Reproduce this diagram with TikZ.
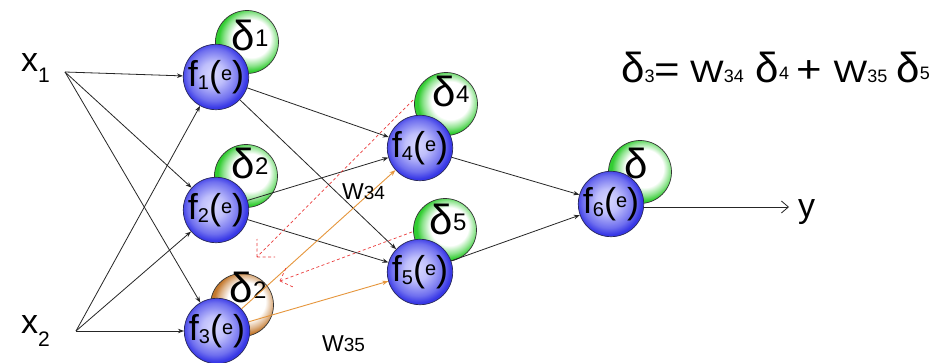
\documentclass[tikz,border=0pt]{standalone}
\usepackage{fontspec}
\setmainfont{Liberation Sans}
\newfontfamily\wf[FakeStretch=1.15]{Liberation Sans}
\usetikzlibrary{arrows.meta,calc}
\definecolor{nin}{RGB}{215,215,255}
\definecolor{nout}{RGB}{55,55,230}
\definecolor{nedge}{RGB}{40,40,90}
\definecolor{gout}{RGB}{50,205,50}
\definecolor{oout}{RGB}{195,120,45}
\definecolor{orline}{RGB}{230,150,60}
\definecolor{rdash}{RGB}{235,60,60}
\pgfdeclareradialshading{neushade}{\pgfpoint{-3bp}{3bp}}{color(0bp)=(nin); color(9bp)=(nin!85!nout); color(20bp)=(nin!35!nout); color(25bp)=(nout); color(50bp)=(nout)}
\pgfdeclareradialshading{gshade}{\pgfpoint{5bp}{4bp}}{color(0bp)=(white); color(15bp)=(white); color(21bp)=(gout!55); color(25bp)=(gout); color(50bp)=(gout)}
\pgfdeclareradialshading{oshade}{\pgfpoint{5bp}{4bp}}{color(0bp)=(white); color(15bp)=(white); color(21bp)=(oout!55); color(25bp)=(oout); color(50bp)=(oout)}
\newcommand\fsz[1]{\fontsize{#1}{#1}\selectfont}
\newcommand\flab[1]{{\fsz{36}f}\raisebox{-3pt}{\fsz{20}#1}{\fsz{36}(}\raisebox{6pt}{\fsz{20}e}{\fsz{36})}}
\newcommand\dlab[1]{{\fsz{42}δ}\raisebox{4pt}{\fsz{24}#1}}
\begin{document}
\begin{tikzpicture}[x=1pt,y=-1pt,
  neuron/.style={circle,draw=nedge,line width=0.7pt,minimum size=64pt,inner sep=0pt,shading=neushade},
  gdelta/.style={circle,draw=black!80,line width=0.7pt,minimum size=63pt,inner sep=0pt,shading=gshade},
  odelta/.style={circle,draw=black!80,line width=0.7pt,minimum size=63pt,inner sep=0pt,shading=oshade},
  conn/.style={draw=black!85,line width=0.8pt,-{Stealth[length=6pt,width=4.5pt]}},
  oconn/.style={draw=orline,line width=0.9pt,-{Stealth[length=6pt,width=4.5pt]}},
  back/.style={draw=rdash,line width=0.7pt,dashed,dash pattern=on 3pt off 2.5pt},
  lab/.style={inner sep=0pt}]
\useasboundingbox (0,0) rectangle (941,363);
\fill[white] (0,0) rectangle (941,363);
% delta circles (behind)
\node[gdelta] (d1) at (247,42) {};
\node[gdelta] (d2) at (246,176) {};
\node[odelta] (d3) at (242,305) {};
\node[gdelta] (d4) at (446,104) {};
\node[gdelta] (d5) at (445,230) {};
\node[gdelta] (d6) at (640,172) {};
\node[lab] (t1) at (250,35) {\dlab{1}};
\node[lab] (t2) at (250,163) {\dlab{2}};
\node[lab] (t3) at (248,287) {\dlab{2}};
\node[lab] (t4) at (451,91) {\dlab{4}};
\node[lab] (t5) at (448,219) {\dlab{5}};
\node[lab] (t6) at (636,163) {{\fsz{42}δ}};
% neurons
\node[neuron] (f1) at (216,77) {\flab{1}};
\node[neuron] (f2) at (216,210) {\flab{2}};
\node[neuron] (f3) at (217,331) {\flab{3}};
\node[neuron] (f4) at (420,148) {\flab{4}};
\node[neuron] (f5) at (420,272) {\flab{5}};
\node[neuron] (f6) at (611,204) {\flab{6}};
% inputs
\node[anchor=base west,lab] (x1) at (21,72) {{\fsz{34}x}\raisebox{-11pt}{\fsz{21}1}};
\node[anchor=base west,lab] (x2) at (21,333) {{\fsz{34}x}\raisebox{-13pt}{\fsz{21}2}};
\coordinate (x1c) at (65,72);
\coordinate (x2c) at (76,331);
\foreach \t in {f1,f2,f3}{
  \draw[conn] (x1c) -- (\t);
  \draw[conn] (x2c) -- (\t);
}
% hidden connections
\draw[conn] (f1) -- (f4);
\draw[conn] (f1) -- (f5);
\draw[conn] (f2) -- (f4);
\draw[conn] (f2) -- (f5);
\draw[oconn] (f3) -- (f4);
\draw[oconn] (f3) -- (f5);
\draw[conn] (f4) -- (f6);
\draw[conn] (f5) -- (f6);
% output
\coordinate (yend) at (789,207);
\draw[conn,-{Straight Barb[length=7pt,width=12pt]}] (f6.east |- yend) -- (yend);
\node[anchor=base west,lab] (ylab) at (798,218) {\fsz{34}y};
% weight labels
\node[anchor=base west,lab] (w34) at (342,200) {{\fsz{23}W}{\fsz{19}34}};
\node[anchor=base west,lab] (w35) at (322,351) {{\fsz{23}W}{\fsz{19}35}};
% back-propagation dashed arrows
\coordinate (sA) at (413,100);
\coordinate (eA) at (257,257);
\coordinate (sB) at (412,232);
\coordinate (eB) at (280,281);
\draw[back] (sA) -- (eA);
\draw[back] (eA) -- ($(eA)!18pt!45:(sA)$);
\draw[back] (eA) -- ($(eA)!18pt!-45:(sA)$);
\draw[back] (sB) -- (eB);
\draw[back] (eB) -- ($(eB)!14pt!45:(sB)$);
\draw[back] (eB) -- ($(eB)!14pt!-45:(sB)$);
% formula
\node[anchor=base west,lab] (eq) at (621,83) {{\fsz{42}δ}{\fsz{18}3}{\wf\fsz{38}=}\hspace{10pt}{\wf\fsz{31}W}{\fsz{18}34}\hspace{12pt}{\fsz{42}δ}\raisebox{3pt}{\fsz{18}4}\hspace{7pt}{\wf\fsz{38}+}\hspace{12pt}{\wf\fsz{31}W}{\fsz{18}35}\hspace{9pt}{\fsz{42}δ}\raisebox{3pt}{\fsz{18}5}};
\end{tikzpicture}
\end{document}
